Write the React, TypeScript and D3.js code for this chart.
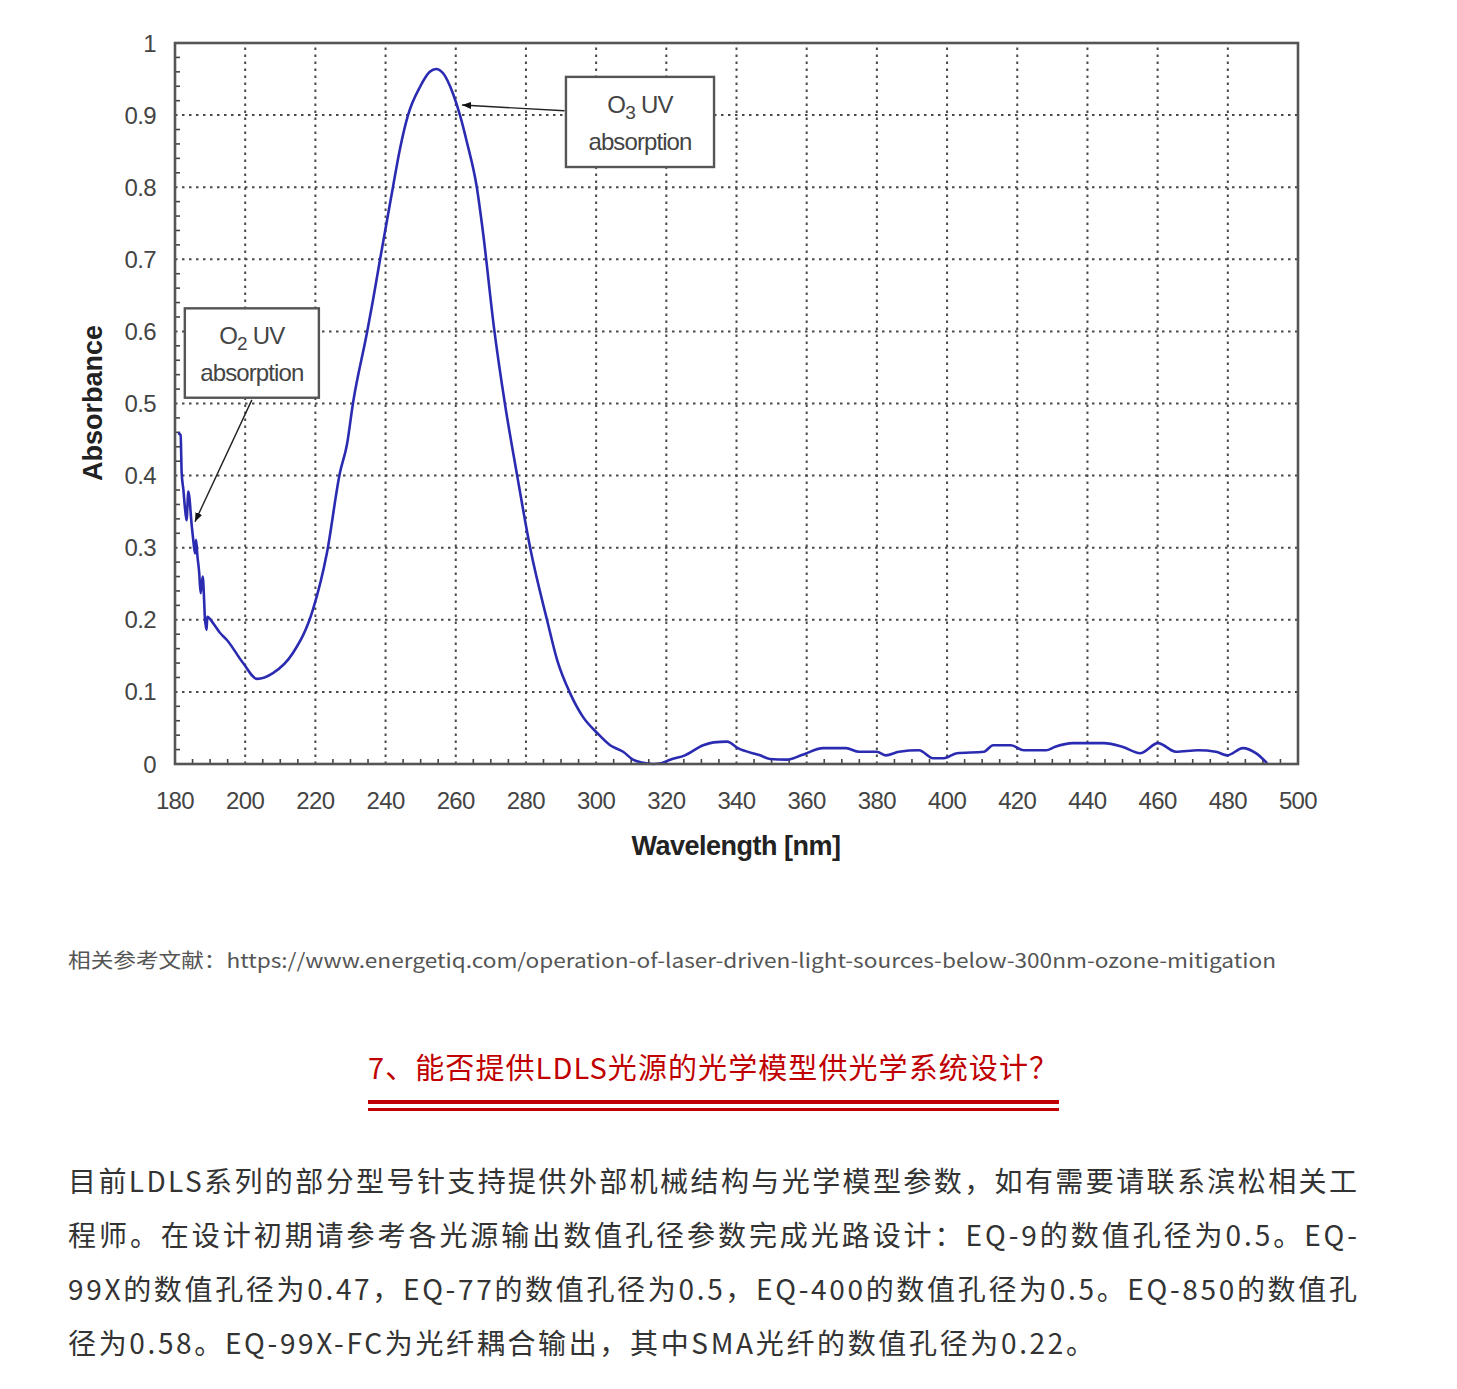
import React from 'react';
import * as d3 from 'd3';

// absorbance spectrum
const wavelength = [
  180.9, 181.6, 181.9, 182.4, 182.8, 183.3, 183.8, 184.8, 185.2, 185.7, 186.0, 186.4, 186.9, 187.3, 187.9, 188.3, 188.5, 189.0, 189.2,
  190.9, 192.8, 194.8, 199.4, 203.4, 207.9, 213.6, 219.3, 223.3, 227.0, 229.0, 230.7, 234.7, 236.4,
  238.4, 240.7, 242.1, 244.1, 246.4, 249.8, 252.6, 254.4, 256.4, 259.2, 261.2, 263.2, 266.0, 267.7,
  270.9, 274.0, 277.5, 281.2, 286.0,
  288.9, 292.6, 296.3, 300.3, 304.0, 307.7, 310.5, 313.0, 316.2, 318.5,
  321.1, 325.3, 330.5, 333.5, 337.3, 340.4, 346.7, 349.5, 354.4, 358.4,
  364.7, 371.2, 374.9, 380.0, 382.6, 386.3, 392.0, 396.0, 399.1, 402.8,
  410.5, 413.1, 418.2, 421.9, 428.2, 430.8, 435.9, 444.7, 449.9, 455.0,
  460.1, 465.2, 471.5, 476.6, 479.8, 484.3, 488.0, 491.2,
];
const absorbance = [
  0.459, 0.456, 0.404, 0.38, 0.357, 0.338, 0.378, 0.329, 0.311, 0.292, 0.311, 0.288, 0.265, 0.237, 0.26, 0.227, 0.204, 0.186, 0.204,
  0.195, 0.182, 0.172, 0.14, 0.118, 0.126, 0.154, 0.214, 0.293, 0.404, 0.443, 0.5, 0.598, 0.643,
  0.699, 0.762, 0.8, 0.853, 0.9, 0.939, 0.96, 0.964, 0.958, 0.93, 0.9, 0.862, 0.8, 0.74,
  0.605, 0.5, 0.4, 0.3, 0.2,
  0.144, 0.098, 0.065, 0.043, 0.026, 0.017, 0.006, 0.002, 0.0, 0.001,
  0.006, 0.012, 0.026, 0.03, 0.031, 0.022, 0.012, 0.007, 0.006, 0.012,
  0.022, 0.022, 0.017, 0.017, 0.012, 0.017, 0.019, 0.008, 0.008, 0.015,
  0.017, 0.026, 0.026, 0.019, 0.019, 0.024, 0.029, 0.029, 0.024, 0.015,
  0.029, 0.017, 0.019, 0.017, 0.012, 0.022, 0.015, 0.001,
];

const xTicks = [180, 200, 220, 240, 260, 280, 300, 320, 340, 360, 380, 400, 420, 440, 460, 480, 500];
const yTicks = [0, 0.1, 0.2, 0.3, 0.4, 0.5, 0.6, 0.7, 0.8, 0.9, 1];
const yTickLabels = ['0', '0.1', '0.2', '0.3', '0.4', '0.5', '0.6', '0.7', '0.8', '0.9', '1'];

// callout boxes in data units: box [x0, x1, yTop, yBottom], arrow from -> to
const callouts = [
  { gas: 'O', sub: '3', box: [291.4, 333.6, 0.953, 0.828], from: [291.0, 0.906], to: [261.8, 0.914] },
  { gas: 'O', sub: '2', box: [182.8, 221.0, 0.632, 0.508], from: [201.9, 0.505], to: [185.7, 0.336] },
];

const refText = '相关参考文献：https://www.energetiq.com/operation-of-laser-driven-light-sources-below-300nm-ozone-mitigation';
const heading = '7、能否提供LDLS光源的光学模型供光学系统设计？';
const bodyLines = [
  '目前LDLS系列的部分型号针支持提供外部机械结构与光学模型参数，如有需要请联系滨松相关工',
  '程师。在设计初期请参考各光源输出数值孔径参数完成光路设计：EQ-9的数值孔径为0.5。EQ-',
  '99X的数值孔径为0.47，EQ-77的数值孔径为0.5，EQ-400的数值孔径为0.5。EQ-850的数值孔',
  '径为0.58。EQ-99X-FC为光纤耦合输出，其中SMA光纤的数值孔径为0.22。',
];
const bodyWidths = [1289, 1289, 1289, 1026];

const W = 1457;
const H = 1389;
const chartFont = '"Liberation Sans", Arial, sans-serif';
const cjkFont = '"Noto Sans CJK SC", "Noto Sans", sans-serif';

export default function App() {
  const x = d3.scaleLinear().domain([180, 500]).range([175, 1298]);
  const y = d3.scaleLinear().domain([0, 1]).range([764, 43]);

  const points: [number, number][] = wavelength.map((w, i) => [w, absorbance[i]]);
  const line = d3
    .line<[number, number]>()
    .x((d) => x(d[0]))
    .y((d) => y(d[1]))
    .curve(d3.curveMonotoneX);

  const xMinor = d3.range(185, 500, 5).filter((v) => v % 20 !== 0);
  const yMinor = d3.range(0.02, 1, 0.02).filter((v) => Math.abs(v * 10 - Math.round(v * 10)) > 0.01);

  return (
    <svg
      width={W}
      height={H}
      style={{ position: 'absolute', left: 0, top: 0, background: '#fff' }}
    >
      <defs>
        <marker id="arrow" viewBox="0 0 10 10" refX="10" refY="5" markerWidth="9" markerHeight="9" orient="auto-start-reverse" markerUnits="userSpaceOnUse">
          <path d="M0,1 L10,5 L0,9 Z" fill="#111" />
        </marker>
      </defs>

      {/* grid */}
      <g stroke="#4a4a4a" strokeWidth={2} strokeDasharray="2.5,4.5">
        {xTicks.slice(1, -1).map((t) => (
          <line key={'gx' + t} x1={x(t)} x2={x(t)} y1={y(0)} y2={y(1)} />
        ))}
        {yTicks.slice(1, -1).map((t) => (
          <line key={'gy' + t} x1={x(180)} x2={x(500)} y1={y(t)} y2={y(t)} />
        ))}
      </g>

      {/* minor ticks */}
      <g stroke="#444" strokeWidth={1.6}>
        {xMinor.map((t) => (
          <line key={'mx' + t} x1={x(t)} x2={x(t)} y1={y(0)} y2={y(0) - 5} />
        ))}
        {yMinor.map((t) => (
          <line key={'my' + t} x1={x(180)} x2={x(180) + 5} y1={y(t)} y2={y(t)} />
        ))}
      </g>

      {/* spectrum */}
      <path d={line(points) || ''} fill="none" stroke="#2b2bb2" strokeWidth={2.6} strokeLinejoin="round" />

      {/* frame */}
      <rect x={x(180)} y={y(1)} width={x(500) - x(180)} height={y(0) - y(1)} fill="none" stroke="#555" strokeWidth={2.6} />

      {/* tick labels */}
      <g fontFamily={chartFont} fontSize={24} fill="#444">
        {xTicks.map((t) => (
          <text key={'tx' + t} x={x(t)} y={809} textAnchor="middle" letterSpacing={-0.6}>
            {t}
          </text>
        ))}
        {yTicks.map((t, i) => (
          <text key={'ty' + t} x={156} y={y(t) + 8.5} textAnchor="end" letterSpacing={-0.6}>
            {yTickLabels[i]}
          </text>
        ))}
      </g>

      {/* axis titles */}
      <text x={736} y={855} textAnchor="middle" fontFamily={chartFont} fontSize={27} fontWeight="bold" fill="#222" letterSpacing={-0.5}>
        Wavelength [nm]
      </text>
      <text transform="translate(102,403) rotate(-90)" textAnchor="middle" fontFamily={chartFont} fontSize={27} fontWeight="bold" fill="#222" letterSpacing={0}>
        Absorbance
      </text>

      {/* callouts */}
      {callouts.map((c) => {
        const [bx0, bx1, byT, byB] = c.box;
        const cx = (x(bx0) + x(bx1)) / 2;
        const top = y(byT);
        return (
          <g key={c.sub}>
            <line x1={x(c.from[0])} y1={y(c.from[1])} x2={x(c.to[0])} y2={y(c.to[1])} stroke="#222" strokeWidth={1.4} markerEnd="url(#arrow)" />
            <rect x={x(bx0)} y={top} width={x(bx1) - x(bx0)} height={y(byB) - top} fill="#fff" stroke="#555" strokeWidth={2.4} />
            <text x={cx} y={top + 36} textAnchor="middle" fontFamily={chartFont} fontSize={24} fill="#444" letterSpacing={-0.8}>
              {c.gas}
              <tspan fontSize={19} dy={6}>{c.sub}</tspan>
              <tspan dy={-6}> UV</tspan>
            </text>
            <text x={cx} y={top + 73} textAnchor="middle" fontFamily={chartFont} fontSize={24} fill="#444" letterSpacing={-0.9}>
              absorption
            </text>
          </g>
        );
      })}

      {/* text below the chart */}
      <text x={68} y={968} fontFamily={cjkFont} fontSize={20} fill="#555" textLength={1208} lengthAdjust="spacingAndGlyphs">
        {refText}
      </text>
      <text x={368} y={1079} fontFamily={cjkFont} fontSize={29} fill="#c00000" textLength={690} lengthAdjust="spacing">
        {heading}
      </text>
      <rect x={368} y={1100} width={691} height={4} fill="#c00000" />
      <rect x={368} y={1108} width={691} height={3} fill="#c00000" />
      {bodyLines.map((l, i) => (
        <text key={i} x={68} y={1192 + i * 54} fontFamily={cjkFont} fontSize={28} fill="#333" textLength={bodyWidths[i]} lengthAdjust="spacing">
          {l}
        </text>
      ))}
    </svg>
  );
}
